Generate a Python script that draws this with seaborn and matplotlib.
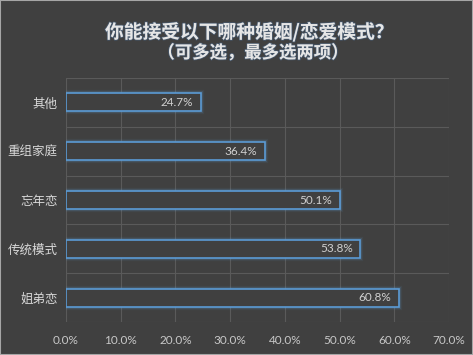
import numpy as np
import seaborn as sns
import matplotlib.pyplot as plt
import matplotlib.patheffects as pe
from matplotlib.patches import Rectangle
import pandas as pd

categories = ['其他', '重组家庭', '忘年恋', '传统模式', '姐弟恋']
values = [24.7, 36.4, 50.1, 53.8, 60.8]
xticks = [0, 10, 20, 30, 40, 50, 60, 70]
title1 = '你能接受以下哪种婚姻/恋爱模式？'
title2 = '（可多选，最多选两项）'

bg = '#404040'
blue = '#5b9bd5'

sns.set_style('dark')
plt.rcParams['font.family'] = ['Noto Sans CJK SC', 'DejaVu Sans']

df = pd.DataFrame({'cat': categories, 'val': values})

fig = plt.figure(figsize=(4.73, 3.55), dpi=100, facecolor=bg)
ax = fig.add_axes([66 / 473, 1 - 322 / 355, (449 - 66) / 473, (322 - 78) / 355])
ax.set_facecolor(bg)

sns.barplot(data=df, x='val', y='cat', orient='h', color=bg, edgecolor=blue,
            linewidth=1.2, width=0.37, ax=ax, zorder=3)

# soft glow round the bar outlines
glow = [pe.Stroke(linewidth=4.5, foreground=blue, alpha=0.08),
        pe.Stroke(linewidth=2.8, foreground=blue, alpha=0.18),
        pe.Normal()]
for p in ax.patches:
    p.set_path_effects(glow)

for i, v in enumerate(values):
    ax.text(v - 1.4, i, f'{v:.1f}%', ha='right', va='center', color='#d0d0d0',
            fontsize=8.5, family=['Lato', 'DejaVu Sans'], zorder=5)

ax.set_xlim(0, 70)
ax.set_ylim(4.5, -0.5)
ax.set_xticks(xticks)
ax.set_xticklabels([f'{t:.1f}%' for t in xticks], color='#c8c8c8', fontsize=8.5,
                   family=['Lato', 'DejaVu Sans'])
ax.set_yticks(range(len(categories)))
ax.set_yticklabels(categories, color='#d9d9d9', fontsize=9)
ax.set_yticks(np.arange(-0.5, 5, 1), minor=True)
ax.tick_params(axis='x', length=0, pad=9)
ax.tick_params(axis='y', length=0, pad=6, which='both')
ax.grid(axis='x', which='major', color='#5a5a5a', linewidth=0.8, zorder=0)
ax.grid(axis='y', which='minor', color='#5a5a5a', linewidth=0.8, zorder=0)
ax.grid(axis='y', which='major', visible=False)
ax.set_xlabel('')
ax.set_ylabel('')
for s in ax.spines.values():
    s.set_visible(False)

tglow = [pe.withStroke(linewidth=1.2, foreground='#4a6a90', alpha=0.5)]
fig.text(0.527, 1 - 32 / 355, title1, ha='center', va='center', color='#e6e6e6',
         fontsize=13.5, fontweight='bold', path_effects=tglow)
fig.text(0.535, 1 - 53 / 355, title2, ha='center', va='center', color='#e6e6e6',
         fontsize=12.5, fontweight='bold', path_effects=tglow)

fig.patches.append(Rectangle((0, 0), 1, 1, transform=fig.transFigure, fill=False,
                             edgecolor='#a6a6a6', linewidth=1.5))

fig.savefig('out.png', dpi=100, facecolor=bg)
